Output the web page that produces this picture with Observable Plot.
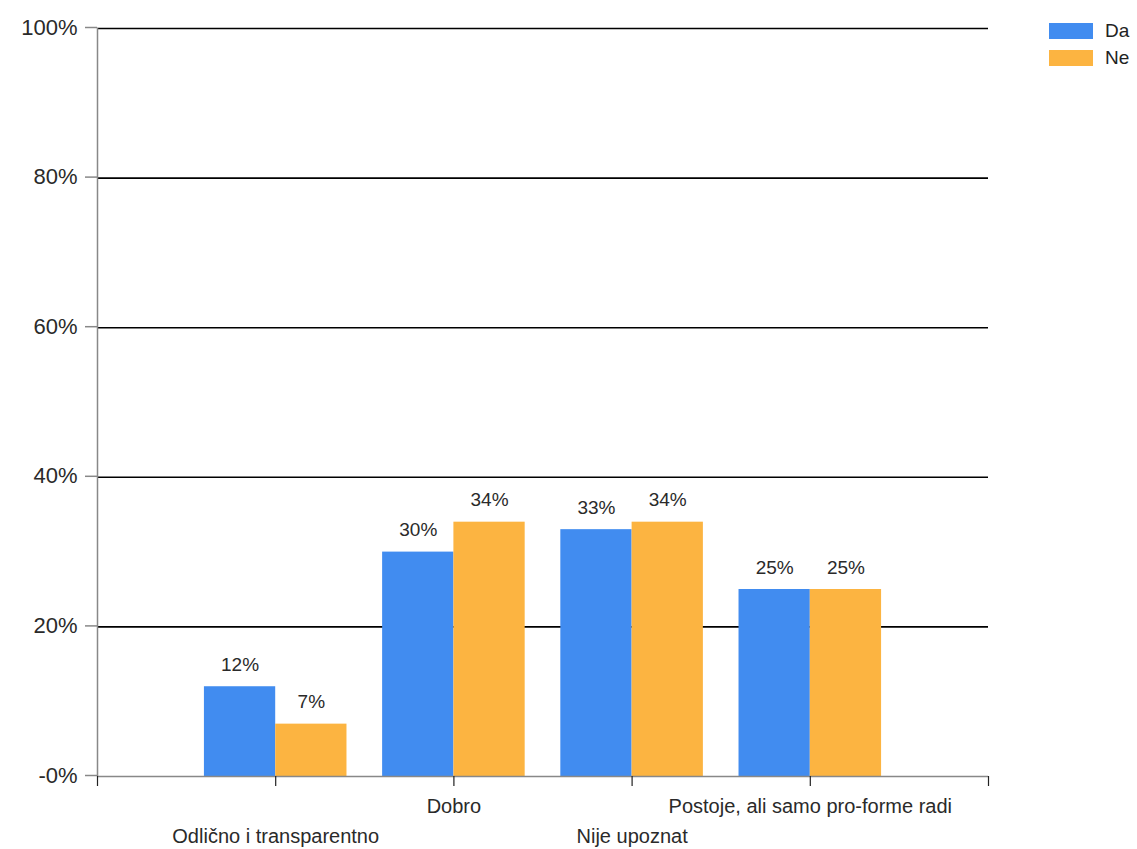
<!DOCTYPE html>
<html>
<head>
<meta charset="utf-8">
<script src="https://cdn.jsdelivr.net/npm/d3@7"></script>
<script src="https://cdn.jsdelivr.net/npm/@observablehq/plot@0.6"></script>
<style>
  html, body { margin: 0; padding: 0; background: #fff; }
  #wrap { position: relative; width: 1137px; height: 849px; font-family: "Liberation Sans", Arial, sans-serif; }
  #legend { position: absolute; left: 1049px; top: 17px; font-size: 19px; color: #222; }
  #legend .row { display: flex; align-items: center; height: 27px; }
  #legend .sw { width: 44px; height: 16px; margin-right: 12px; }
</style>
</head>
<body>
<div id="wrap">
  <div id="chart"></div>
  <div id="legend"></div>
</div>
<script>
const categories = ["Odlično i transparentno", "Dobro", "Nije upoznat", "Postoje, ali samo pro-forme radi"];
const seriesNames = ["Da", "Ne"];
const daValues = [12, 30, 33, 25];
const neValues = [7, 34, 34, 25];
const seriesColors = ["#418CF0", "#FCB441"];
const yTicks = [0, 20, 40, 60, 80, 100];
const xTicks = [0, 1, 2, 3, 4, 5];

const barHalf = 0.4;
const rows = [];
categories.forEach((c, i) => {
  const pos = i + 1;
  rows.push({cat: c, series: "Da", value: daValues[i], x1: pos - barHalf, x2: pos});
  rows.push({cat: c, series: "Ne", value: neValues[i], x1: pos, x2: pos + barHalf});
});
const catRows = categories.map((c, i) => ({cat: c, pos: i + 1, lower: i % 2 === 0}));

const chart = Plot.plot({
  width: 1137,
  height: 849,
  marginLeft: 97,
  marginRight: 149,
  marginTop: 28,
  marginBottom: 73,
  style: {fontFamily: "'Liberation Sans', Arial, sans-serif", fontSize: "20px", color: "#2a2a2a", background: "#fff"},
  x: {type: "linear", domain: [0, 5], axis: null},
  y: {domain: [0, 100], axis: null},
  color: {domain: seriesNames, range: seriesColors},
  marks: [
    Plot.ruleY(yTicks.filter(d => d > 0), {stroke: "#000", strokeWidth: 1.6}),
    Plot.rect(rows, {x1: "x1", x2: "x2", y1: 0, y2: "value", fill: "series"}),
    Plot.ruleY([0], {stroke: "#888", strokeWidth: 1.5}),
    Plot.ruleX([0], {stroke: "#888", strokeWidth: 1.5}),
    Plot.axisY(yTicks, {label: null, tickSize: 12, tickPadding: 8, stroke: "#888", strokeWidth: 1.5, fill: "#2a2a2a", fontSize: 22,
      dy: -1, tickFormat: d => (d === 0 ? "-0%" : d + "%")}),
    Plot.axisX(xTicks, {label: null, tickSize: 10, stroke: "#222", strokeWidth: 1.2, tickFormat: () => ""}),
    Plot.text(rows, {x: d => (d.x1 + d.x2) / 2, y: "value", text: d => d.value + "%", dy: -22, fill: "#2a2a2a", fontSize: 19}),
    Plot.text(catRows.filter(d => !d.lower), {x: "pos", y: 0, text: "cat", dy: 30, fill: "#2a2a2a", fontSize: 20}),
    Plot.text(catRows.filter(d => d.lower), {x: "pos", y: 0, text: "cat", dy: 60, fill: "#2a2a2a", fontSize: 20})
  ]
});
document.getElementById("chart").append(chart);

const legend = document.getElementById("legend");
seriesNames.forEach((s, i) => {
  const row = document.createElement("div");
  row.className = "row";
  const sw = document.createElement("div");
  sw.className = "sw";
  sw.style.background = seriesColors[i];
  const t = document.createElement("span");
  t.textContent = s;
  row.append(sw, t);
  legend.append(row);
});
</script>
</body>
</html>
